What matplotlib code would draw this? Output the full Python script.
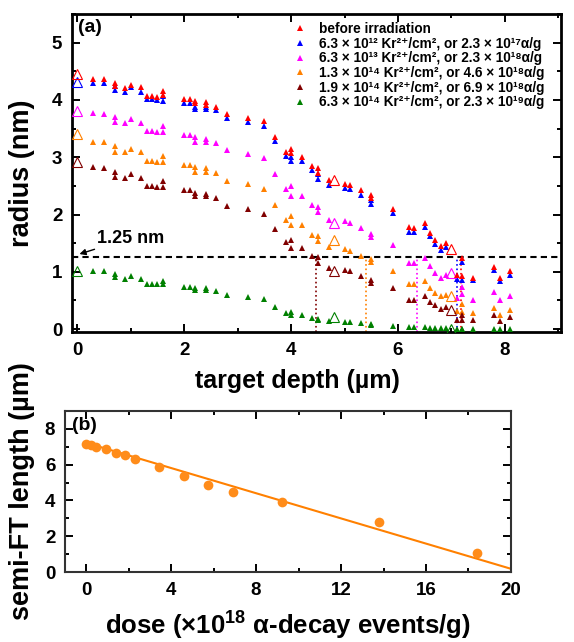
import numpy as np
import matplotlib
matplotlib.use("Agg")
import matplotlib.pyplot as plt
from matplotlib.ticker import MultipleLocator

plt.rcParams['font.family'] = ['Liberation Sans', 'DejaVu Sans']
plt.rcParams['font.weight'] = 'bold'
plt.rcParams['axes.labelweight'] = 'bold'
plt.rcParams['mathtext.fontset'] = 'custom'
plt.rcParams['mathtext.rm'] = 'Liberation Sans:bold'
plt.rcParams['mathtext.bf'] = 'Liberation Sans:bold'
plt.rcParams['mathtext.default'] = 'bf'

# --- (a) radius vs depth ---
depth = [0.3, 0.5, 0.7, 0.7, 0.9, 1.0, 1.2, 1.3, 1.4, 1.5, 1.6, 1.6,
         2.0, 2.1, 2.2, 2.2, 2.4, 2.4, 2.6, 2.8, 3.2, 3.5, 3.7, 3.9, 4.0, 4.0,
         4.2, 4.4, 4.5, 4.5, 4.7, 5.0, 5.1, 5.3, 5.5, 5.5, 5.9, 6.2, 6.3,
         6.5, 6.6, 6.7, 6.8, 6.9, 7.1, 7.2, 7.2, 7.4, 7.8, 7.9, 8.1]

r_before = [4.37, 4.36, 4.30, 4.24, 4.20, 4.26, 4.22, 4.07, 4.07, 4.05, 4.16, 4.08,
            4.01, 4.01, 3.99, 3.94, 3.97, 3.91, 3.88, 3.76, 3.69, 3.63, 3.35, 3.10, 3.15, 3.07,
            3.00, 2.84, 2.82, 2.73, 2.60, 2.54, 2.52, 2.42, 2.34, 2.28, 2.10, 1.78, 1.76,
            1.85, 1.68, 1.56, 1.45, 1.50, 0.94, 1.24, 0.92, 0.89, 1.09, 0.90, 1.01]
r_63e12 = [4.30, 4.30, 4.24, 4.17, 4.14, 4.22, 4.14, 4.01, 4.01, 4.00, 4.06, 3.98,
           3.94, 3.94, 3.85, 3.88, 3.85, 3.88, 3.83, 3.69, 3.62, 3.54, 3.28, 3.03, 3.00, 2.93,
           2.93, 2.77, 2.71, 2.62, 2.51, 2.47, 2.45, 2.34, 2.25, 2.19, 2.03, 1.69, 1.69,
           1.78, 1.62, 1.49, 1.38, 1.43, 0.88, 1.18, 0.86, 0.86, 1.03, 0.84, 0.94]
r_63e13 = [3.77, 3.76, 3.71, 3.61, 3.60, 3.66, 3.60, 3.46, 3.46, 3.44, 3.55, 3.44,
           3.38, 3.38, 3.35, 3.27, 3.32, 3.27, 3.25, 3.12, 3.05, 2.98, 2.71, 2.44, 2.49, 2.33,
           2.33, 2.16, 2.14, 2.04, 1.91, 1.88, 1.85, 1.76, 1.66, 1.61, 1.47, 1.16, 1.16,
           1.24, 1.10, 0.98, 0.90, 0.95, 0.54, 0.74, 0.62, 0.50, 0.64, 0.51, 0.57]
r_13e14 = [3.26, 3.26, 3.19, 3.09, 3.09, 3.14, 3.09, 2.94, 2.94, 2.92, 3.03, 2.91,
           2.86, 2.86, 2.83, 2.75, 2.81, 2.74, 2.72, 2.59, 2.53, 2.44, 2.16, 1.91, 1.97, 1.82,
           1.82, 1.65, 1.63, 1.53, 1.43, 1.40, 1.36, 1.28, 1.23, 1.17, 1.02, 0.78, 0.78,
           0.84, 0.72, 0.63, 0.57, 0.60, 0.31, 0.44, 0.29, 0.28, 0.37, 0.24, 0.33]
r_19e14 = [2.83, 2.81, 2.75, 2.65, 2.64, 2.70, 2.64, 2.50, 2.50, 2.48, 2.58, 2.48,
           2.43, 2.43, 2.37, 2.32, 2.35, 2.32, 2.29, 2.15, 2.09, 2.01, 1.75, 1.52, 1.56, 1.41,
           1.41, 1.28, 1.25, 1.15, 1.07, 1.03, 1.01, 0.92, 0.86, 0.81, 0.72, 0.51, 0.51,
           0.57, 0.48, 0.42, 0.35, 0.38, 0.16, 0.24, 0.16, 0.16, 0.24, 0.15, 0.21]
r_63e14 = [1.02, 1.02, 0.97, 0.91, 0.88, 0.93, 0.88, 0.79, 0.79, 0.79, 0.84, 0.78,
           0.74, 0.74, 0.72, 0.68, 0.71, 0.68, 0.67, 0.59, 0.56, 0.52, 0.38, 0.28, 0.29, 0.25,
           0.25, 0.20, 0.18, 0.16, 0.14, 0.12, 0.12, 0.10, 0.09, 0.07, 0.06, 0.03, 0.03,
           0.03, 0.02, 0.02, 0.02, 0.02, 0.00, 0.01, 0.00, 0.00, 0.00, 0.00, 0.00]

# open symbols
depth_open = [0.0, 4.8, 7.0]
open_before = [4.45, 2.61, 1.40]
open_63e12 = [4.31, np.nan, np.nan]
open_63e13 = [3.80, 1.85, 0.98]
open_13e14 = [3.41, 1.56, 0.57]
open_19e14 = [2.91, 1.02, 0.34]
open_63e14 = [1.02, 0.21, 0.00]

labels = ['before irradiation',
          '6.3 × 10¹² Kr²⁺/cm², or 2.3 × 10¹⁷α/g',
          '6.3 × 10¹³ Kr²⁺/cm², or 2.3 × 10¹⁸α/g',
          '1.3 × 10¹⁴ Kr²⁺/cm², or 4.6 × 10¹⁸α/g',
          '1.9 × 10¹⁴ Kr²⁺/cm², or 6.9 × 10¹⁸α/g',
          '6.3 × 10¹⁴ Kr²⁺/cm², or 2.3 × 10¹⁹α/g']
colors = ['#ff0000', '#0000ff', '#ff00ff', '#ff8000', '#800000', '#008000']

threshold = 1.25
ft_depth = [7.18, 7.11, 6.36, 5.41, 4.47]   # red, blue, magenta, orange, maroon

# --- (b) semi-FT length vs dose ---
dose = [0, 0.23, 0.46, 0.92, 1.38, 1.84, 2.3, 3.45, 4.6, 5.75, 6.9, 9.2, 13.8, 18.4]
ft_len = [7.16, 7.10, 7.00, 6.88, 6.64, 6.55, 6.34, 5.89, 5.39, 4.86, 4.45, 3.89, 2.77, 1.09]
fit_dose = [0, 20]
fit_len = [7.22, 0.18]

fig = plt.figure(figsize=(5.74, 6.42), dpi=100)
ax1 = fig.add_axes([0.1254, 0.4829, 0.852, 0.4953])
ax2 = fig.add_axes([0.1132, 0.109, 0.777, 0.2508])

filled = [r_before, r_63e12, r_63e13, r_13e14, r_19e14, r_63e14]
opens = [open_before, open_63e12, open_63e13, open_13e14, open_19e14, open_63e14]
for i in range(len(filled)):
    z = 4 if i == 0 else 3
    ax1.plot(depth, filled[i], '^', color=colors[i], ms=4.2, mew=0,
             label=labels[i], zorder=z)
    ax1.plot(depth_open, opens[i], '^', mfc='none', mec=colors[i], ms=7,
             mew=0.8, zorder=z)

ax1.axhline(threshold, color='black', ls=(0, (3, 2)), lw=1.5, zorder=2)
for d, c in zip(ft_depth, colors[:5]):
    ax1.plot([d, d], [-0.05, threshold], ls=':', color=c, lw=1.2, zorder=2)

ax1.annotate('1.25 nm', xy=(0.04, 1.31), xytext=(0.36, 1.59),
             fontsize=13, fontweight='bold', va='center',
             arrowprops=dict(arrowstyle='-|>', color='black', lw=1,
                             mutation_scale=9, shrinkA=0, shrinkB=0))

ax1.set_xlim(-0.1, 9.05)
ax1.set_ylim(-0.05, 5.5)
ax1.xaxis.set_major_locator(MultipleLocator(2))
ax1.xaxis.set_minor_locator(MultipleLocator(1))
ax1.yaxis.set_major_locator(MultipleLocator(1))
ax1.yaxis.set_minor_locator(MultipleLocator(0.5))
ax1.set_xlabel('target depth (µm)', fontsize=18)
ax1.set_ylabel('radius (nm)', fontsize=19.5)
ax1.xaxis.set_label_coords(0.462, -0.155)
ax1.xaxis.label.set_va('center')
ax1.yaxis.set_label_coords(-0.0757, 0.5)
ax1.text(0.013, 0.985, '(a)', transform=ax1.transAxes, fontsize=14,
         fontweight='bold', va='top', ha='left')
leg = ax1.legend(loc='upper right', bbox_to_anchor=(0.985, 1.005), frameon=False,
                 fontsize=9.8, handlelength=0.8, handletextpad=1.0,
                 labelspacing=0.05, borderaxespad=0.3)

ax2.plot(fit_dose, fit_len, color='#ff8000', lw=1.5, zorder=2)
ax2.plot(dose, ft_len, 'o', color='#ff8c1a', ms=7, mew=0, zorder=3)
ax2.set_xlim(-1, 20)
ax2.set_ylim(0, 9)
ax2.xaxis.set_major_locator(MultipleLocator(4))
ax2.xaxis.set_minor_locator(MultipleLocator(2))
ax2.yaxis.set_major_locator(MultipleLocator(2))
ax2.yaxis.set_minor_locator(MultipleLocator(1))
ax2.set_xlabel('dose (×10$^{18}$ α-decay events/g)', fontsize=18.5)
ax2.set_ylabel('semi-FT length (µm)', fontsize=19.5)
ax2.xaxis.set_label_coords(0.5, -0.334)
ax2.xaxis.label.set_va('center')
ax2.yaxis.set_label_coords(-0.0673, 0.5)
ax2.text(0.015, 0.965, '(b)', transform=ax2.transAxes, fontsize=14,
         fontweight='bold', va='top', ha='left')

for ax, lw in [(ax1, 2.0), (ax2, 1.5)]:
    for s in ax.spines.values():
        s.set_linewidth(lw)
    ax.tick_params(which='both', direction='in', top=True, right=True,
                   width=1.4, labelsize=13.5)
    ax.tick_params(which='major', length=6, pad=7)
    ax.tick_params(which='minor', length=3)
for s in ax2.spines.values():
    s.set_color('#333333')

fig.savefig('out.png', dpi=100)
